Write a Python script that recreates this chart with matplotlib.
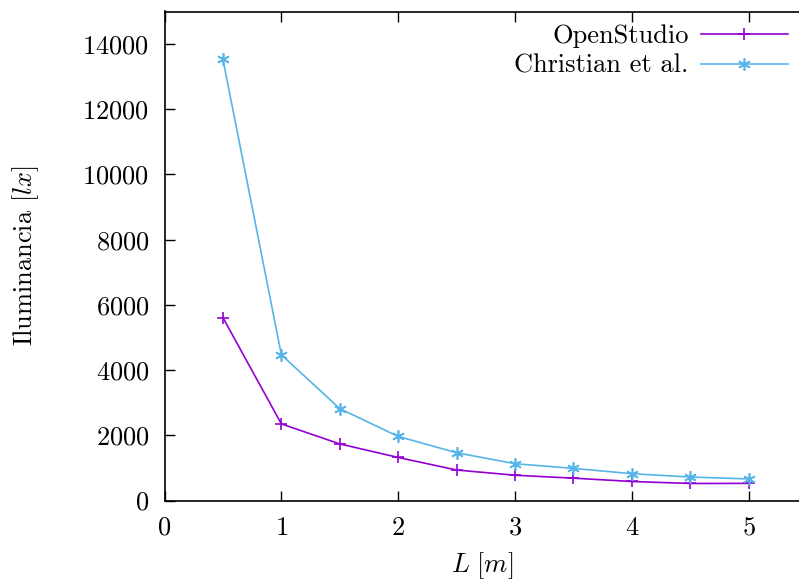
import numpy as np
import matplotlib
matplotlib.use("Agg")
import matplotlib.pyplot as plt

plt.rcParams['font.family'] = 'serif'
plt.rcParams['font.serif'] = ['cmr10']
plt.rcParams['mathtext.fontset'] = 'cm'
plt.rcParams['axes.formatter.use_mathtext'] = True

# distancia L [m] y iluminancia [lx]
L = [0.5, 1.0, 1.5, 2.0, 2.5, 3.0, 3.5, 4.0, 4.5, 5.0]
openstudio = [5610, 2350, 1735, 1320, 935, 775, 685, 583, 522, 525]
christian = [13535, 4470, 2818, 1965, 1466, 1128, 985, 822, 720, 662]

fig = plt.figure(figsize=(7.99, 5.83), dpi=100)
ax = fig.add_axes([164.5 / 799, 1 - 500.5 / 583, (799 - 164.5) / 799, (500.5 - 11.5) / 583])

ax.plot(L, openstudio, color='#9400d3', lw=1.2, marker='+', ms=9, mew=1.2,
        label='OpenStudio')
ax.plot(L, christian, color='#56b4e9', lw=1.2, marker=(6, 2, 0), ms=9, mew=1.2,
        label='Christian et al.')

ax.set_xlim(0, 5.43)
ax.set_ylim(0, 15000)
ax.set_xticks([0, 1, 2, 3, 4, 5])
ax.set_yticks(np.arange(0, 14001, 2000))
ax.tick_params(direction='in', length=7, width=1, labelsize=19,
               top=True, right=False)
ax.tick_params(axis='x', pad=11)
ax.tick_params(axis='y', pad=11)
ax.spines['right'].set_visible(False)
for s in ax.spines.values():
    s.set_linewidth(1.2)

ax.set_xlabel(r'$L\ [m]$', fontsize=19, labelpad=8)
ax.set_ylabel(r'Iluminancia $[lx]$', fontsize=19, labelpad=30)

ax.legend(loc='upper right', frameon=False, markerfirst=False, fontsize=19,
          handlelength=3.3, borderaxespad=0.0, labelspacing=0.22,
          handletextpad=0.45, bbox_to_anchor=(0.999, 0.995))

fig.savefig('out.png', dpi=100)
